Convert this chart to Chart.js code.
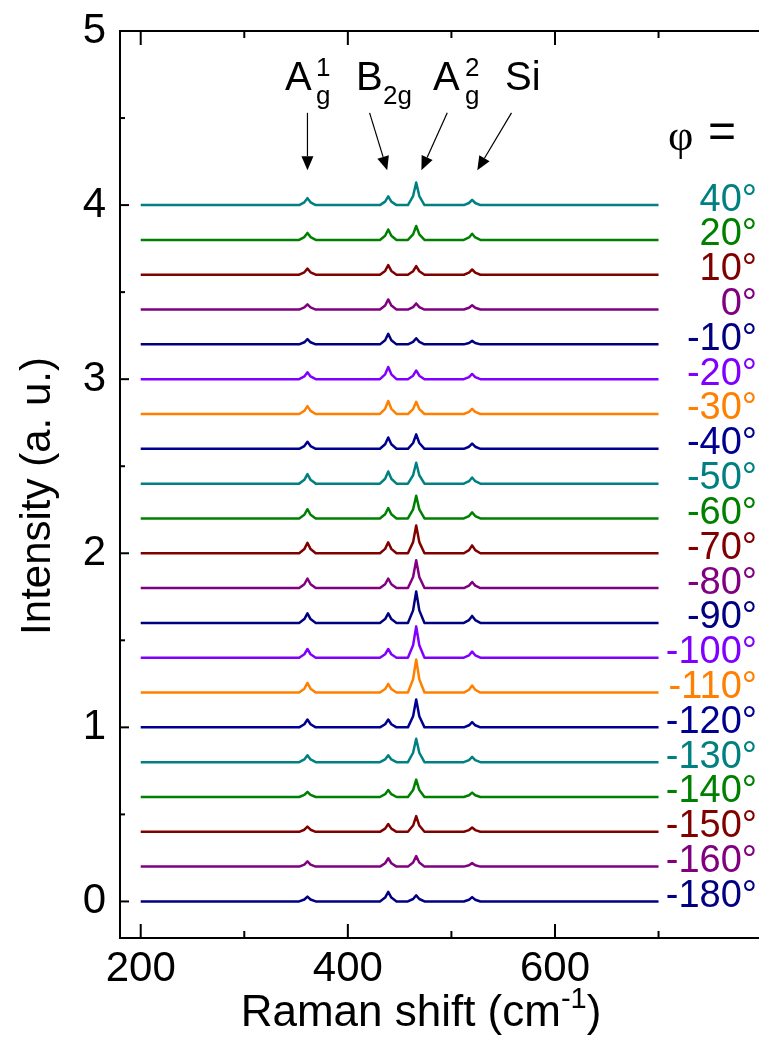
<!DOCTYPE html>
<html>
<head>
<meta charset="utf-8">
<script src="https://cdn.jsdelivr.net/npm/chart.js@4.4.0/dist/chart.umd.min.js"></script>
<style>
  html, body { margin: 0; padding: 0; background: #fff; overflow: hidden; }
  #wrap { width: 759px; height: 1038px; position: relative; }
</style>
</head>
<body>
<div id="wrap"><canvas id="myChart"></canvas></div>
<script>
// polarisation angle of each spectrum (top to bottom) and its vertical offset
const angles  = [40, 20, 10, 0, -10, -20, -30, -40, -50, -60, -70, -80, -90, -100, -110, -120, -130, -140, -150, -160, -180];
const offsets = [4.0, 3.8, 3.6, 3.4, 3.2, 3.0, 2.8, 2.6, 2.4, 2.2, 2.0, 1.8, 1.6, 1.4, 1.2, 1.0, 0.8, 0.6, 0.4, 0.2, 0.0];

// Raman shift range and peak positions (cm-1): A1g, B2g, A2g, Si
const shiftRange  = [200, 700];
const peakCenters = [361, 439, 466, 520];

// peak heights above each baseline (a. u.)
const peakA1g = [0.04, 0.04, 0.035, 0.03, 0.03, 0.04, 0.045, 0.04, 0.055, 0.053, 0.06, 0.055, 0.055, 0.05, 0.055, 0.045, 0.04, 0.03, 0.03, 0.03, 0.028];
const peakB2g = [0.05, 0.06, 0.055, 0.058, 0.06, 0.07, 0.075, 0.065, 0.07, 0.06, 0.063, 0.055, 0.055, 0.05, 0.05, 0.045, 0.04, 0.04, 0.045, 0.048, 0.055];
const peakA2g = [0.13, 0.08, 0.05, 0.035, 0.035, 0.05, 0.07, 0.083, 0.12, 0.13, 0.16, 0.16, 0.18, 0.18, 0.19, 0.16, 0.135, 0.10, 0.09, 0.06, 0.035];
const peakSi  = [0.03, 0.035, 0.03, 0.025, 0.02, 0.03, 0.03, 0.03, 0.035, 0.035, 0.045, 0.035, 0.04, 0.035, 0.04, 0.03, 0.03, 0.025, 0.025, 0.02, 0.025];

const xTicks = [200, 400, 600];
const yTicks = [0, 1, 2, 3, 4, 5];

const palette = ['#008080', '#008000', '#800000', '#800080', '#000080', '#8000ff', '#ff8000', '#000090'];

const FONT = '"Liberation Sans", Arial, sans-serif';

// build one spectrum as a polyline: flat baseline with a narrow peak at each line
function spectrum(i) {
  const heights = [peakA1g[i], peakB2g[i], peakA2g[i], peakSi[i]];
  const base = offsets[i];
  const pts = [{x: shiftRange[0], y: base}];
  peakCenters.forEach(function (c, k) {
    const h = heights[k];
    pts.push({x: c - 8, y: base});
    pts.push({x: c - 3, y: base + h * 0.4});
    pts.push({x: c, y: base + h});
    pts.push({x: c + 3, y: base + h * 0.4});
    pts.push({x: c + 8, y: base});
  });
  pts.push({x: shiftRange[1], y: base});
  return pts;
}

const datasets = angles.map(function (a, i) {
  return {
    label: a + '°',
    data: spectrum(i),
    borderColor: palette[i % palette.length],
    borderWidth: 2.5,
    borderJoinStyle: 'round',
    pointRadius: 0,
    tension: 0,
    fill: false
  };
});

function line(ctx, x1, y1, x2, y2) {
  ctx.beginPath(); ctx.moveTo(x1, y1); ctx.lineTo(x2, y2); ctx.stroke();
}

function arrow(ctx, x1, y1, x2, y2) {
  const ang = Math.atan2(y2 - y1, x2 - x1), L = 14, W = 6;
  const bx = x2 - L * Math.cos(ang), by = y2 - L * Math.sin(ang);
  ctx.lineWidth = 1.2;
  line(ctx, x1, y1, bx, by);
  ctx.beginPath();
  ctx.moveTo(x2, y2);
  ctx.lineTo(bx + W * Math.sin(ang), by - W * Math.cos(ang));
  ctx.lineTo(bx - W * Math.sin(ang), by + W * Math.cos(ang));
  ctx.closePath();
  ctx.fill();
}

const decor = {
  id: 'decor',
  afterDraw(chart) {
    const ctx = chart.ctx, a = chart.chartArea, x = chart.scales.x, y = chart.scales.y;
    ctx.save();
    ctx.strokeStyle = '#000';
    ctx.fillStyle = '#000';
    ctx.lineWidth = 2;
    // top frame
    line(ctx, a.left, a.top, a.right, a.top);
    // x ticks (bottom and top, inward)
    for (let v = 200; v <= 700; v += 100) {
      const px = x.getPixelForValue(v);
      const len = v % 200 === 0 ? 14 : 7;
      line(ctx, px, a.bottom, px, a.bottom - len);
      line(ctx, px, a.top, px, a.top + len);
    }
    // y ticks (inward)
    for (let v = 0; v <= 5; v += 0.5) {
      const py = y.getPixelForValue(v);
      const len = Number.isInteger(v) ? 9 : 5;
      line(ctx, a.left, py, a.left + len, py);
    }

    // angle labels
    ctx.textAlign = 'right';
    ctx.textBaseline = 'middle';
    ctx.font = '38px ' + FONT;
    angles.forEach(function (ang, i) {
      ctx.fillStyle = palette[i % palette.length];
      ctx.fillText(ang + '°', 757, y.getPixelForValue(offsets[i]) - 5);
    });
    ctx.fillStyle = '#000';
    ctx.textAlign = 'left';
    ctx.font = '44px "Liberation Serif", serif';
    ctx.fillText('φ', 668, 138);
    ctx.font = '48px ' + FONT;
    ctx.fillText('=', 708, 134);

    // peak annotations
    ctx.textBaseline = 'alphabetic';
    const big = '40px ' + FONT, small = '26px ' + FONT;
    ctx.font = big; ctx.fillText('A', 285, 90);
    ctx.font = small; ctx.fillText('1', 316, 76); ctx.fillText('g', 316, 104);
    ctx.font = big; ctx.fillText('B', 356, 90);
    ctx.font = small; ctx.fillText('2g', 383, 104);
    ctx.font = big; ctx.fillText('A', 433, 90);
    ctx.font = small; ctx.fillText('2', 465, 76); ctx.fillText('g', 465, 104);
    ctx.font = big; ctx.fillText('Si', 505, 90);

    const tipY = y.getPixelForValue(4.2), tailY = y.getPixelForValue(4.53);
    arrow(ctx, x.getPixelForValue(361), tailY, x.getPixelForValue(361), tipY);
    arrow(ctx, x.getPixelForValue(421), tailY, x.getPixelForValue(438), tipY);
    arrow(ctx, x.getPixelForValue(496), tailY, x.getPixelForValue(471), tipY);
    arrow(ctx, x.getPixelForValue(558), tailY, x.getPixelForValue(525), tipY);

    // axis titles
    const tf = '44px ' + FONT, sf = '29px ' + FONT;
    ctx.font = tf;
    const t1 = 'Raman shift (cm';
    const w1 = ctx.measureText(t1).width;
    const w3 = ctx.measureText(')').width;
    ctx.font = sf;
    const w2 = ctx.measureText('-1').width;
    const sx = 421 - (w1 + w2 + w3) / 2;
    ctx.font = tf;
    ctx.fillText(t1, sx, 1026);
    ctx.fillText(')', sx + w1 + w2, 1026);
    ctx.font = sf;
    ctx.fillText('-1', sx + w1, 1008);

    ctx.font = '42px ' + FONT;
    ctx.translate(38, 496);
    ctx.rotate(-Math.PI / 2);
    ctx.textAlign = 'center';
    ctx.textBaseline = 'middle';
    ctx.fillText('Intensity (a. u.)', 0, 0);
    ctx.restore();
  }
};

new Chart(document.getElementById('myChart'), {
  type: 'line',
  data: { datasets: datasets },
  options: {
    responsive: true,
    maintainAspectRatio: false,
    animation: false,
    layout: { padding: { top: 31, left: 0, right: 0, bottom: 0 } },
    plugins: { legend: { display: false }, tooltip: { enabled: false } },
    scales: {
      x: {
        type: 'linear',
        min: 180,
        max: 797,
        afterBuildTicks: function (s) { s.ticks = xTicks.map(function (v) { return {value: v}; }); },
        afterFit: function (s) { s.height = 100; s.paddingLeft = 0; s.paddingRight = 0; },
        grid: { display: false, drawTicks: false },
        border: { display: true, color: '#000', width: 2 },
        ticks: { padding: 6, color: '#000', font: { size: 42, family: FONT }, maxRotation: 0 }
      },
      y: {
        type: 'linear',
        min: -0.21,
        max: 5,
        afterBuildTicks: function (s) { s.ticks = yTicks.map(function (v) { return {value: v}; }); },
        afterFit: function (s) { s.width = 120; s.paddingTop = 0; s.paddingBottom = 0; },
        grid: { display: false, drawTicks: false },
        border: { display: true, color: '#000', width: 2 },
        ticks: { padding: 14, color: '#000', font: { size: 42, family: FONT } }
      }
    }
  },
  plugins: [decor]
});
</script>
</body>
</html>
